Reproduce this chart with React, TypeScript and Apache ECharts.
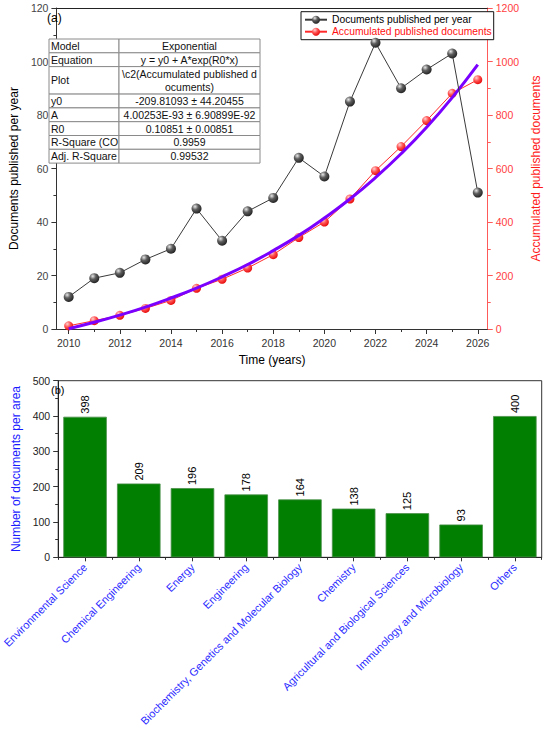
import React, { useEffect, useRef } from "react";
import * as echarts from "echarts";

const years = [2010, 2011, 2012, 2013, 2014, 2015, 2016, 2017, 2018, 2019, 2020, 2021, 2022, 2023, 2024, 2025, 2026];
const docsPerYear = [12, 19, 21, 26, 30, 45, 33, 44, 49, 64, 57, 85, 107, 90, 97, 103, 51];
const accumulatedDocs = [12, 31, 51, 77, 107, 152, 186, 228, 278, 342, 400, 486, 592, 682, 779, 881, 932];
const fitCurve = [1, 25, 52, 82, 116, 153, 195, 241, 293, 350, 415, 486, 566, 655, 754, 865, 988];
const yearTickLabels = [2010, 2012, 2014, 2016, 2018, 2020, 2022, 2024, 2026];
const oddYearTicks = [2011, 2013, 2015, 2017, 2019, 2021, 2023, 2025];

const areas = [
  "Environmental Science",
  "Chemical Engineering",
  "Energy",
  "Engineering",
  "Biochemistry, Genetics and Molecular Biology",
  "Chemistry",
  "Agricultural and Biological Sciences",
  "Immunology and Microbiology",
  "Others",
];
const areaCounts = [398, 209, 196, 178, 164, 138, 125, 93, 400];

const tableKeys = ["Model", "Equation", "Plot", "y0", "A", "R0", "R-Square (CO", "Adj. R-Square"];
const tableValues = [
  "Exponential",
  "y = y0 + A*exp(R0*x)",
  "\\c2(Accumulated published d\nocuments)",
  "-209.81093 ± 44.20455",
  "4.00253E-93 ± 6.90899E-92",
  "0.10851 ± 0.00851",
  "0.9959",
  "0.99532",
];

const FONT = '"Liberation Sans", Arial, Helvetica, sans-serif';

function buildTable() {
  const els: any[] = [];
  const x0 = 49;
  const xMid = 119;
  const x1 = 260;
  let y = 39;
  tableKeys.forEach((k, i) => {
    const h = i === 2 ? 27.5 : 13.8;
    els.push({
      type: "rect",
      shape: { x: x0, y, width: xMid - x0, height: h },
      style: { fill: "#fff", stroke: "#8a8a8a", lineWidth: 1 },
      z: 10,
    });
    els.push({
      type: "rect",
      shape: { x: xMid, y, width: x1 - xMid, height: h },
      style: { fill: "#fff", stroke: "#8a8a8a", lineWidth: 1 },
      z: 10,
    });
    els.push({
      type: "text",
      x: x0 + 2,
      y: y + h / 2,
      style: {
        text: k,
        fill: "#111",
        fontSize: 10.5,
        fontFamily: FONT,
        align: "left",
        verticalAlign: "middle",
      },
      z: 11,
    });
    els.push({
      type: "text",
      x: (xMid + x1) / 2,
      y: y + h / 2,
      style: {
        text: tableValues[i],
        fill: "#111",
        fontSize: 10.5,
        fontFamily: FONT,
        align: "center",
        verticalAlign: "middle",
        lineHeight: 13,
      },
      z: 11,
    });
    y += h;
  });
  return els;
}

export default function App() {
  const ref = useRef<HTMLDivElement>(null);

  useEffect(() => {
    document.body.style.margin = "0";
    if (!ref.current) return;
    const chart = echarts.init(ref.current, undefined, { renderer: "svg" });

    const grayBall = {
      type: "radial",
      x: 0.35,
      y: 0.3,
      r: 0.7,
      colorStops: [
        { offset: 0, color: "#e8e8e8" },
        { offset: 0.45, color: "#5e5e5e" },
        { offset: 1, color: "#262626" },
      ],
    };
    const redBall = {
      type: "radial",
      x: 0.35,
      y: 0.3,
      r: 0.7,
      colorStops: [
        { offset: 0, color: "#ffd0d0" },
        { offset: 0.5, color: "#ff5050" },
        { offset: 1, color: "#e81010" },
      ],
    };

    const numFmt = (v: number) => String(v);

    const option: any = {
      animation: false,
      textStyle: { fontFamily: FONT },
      grid: [
        { left: 42.7, right: 55, top: 8, height: 321 },
        { left: 49, right: 8.3, top: 380.7, height: 177, show: true, borderColor: "#333", borderWidth: 1 },
      ],
      legend: {
        show: true,
        orient: "vertical",
        left: 301,
        top: 11.7,
        padding: [3, 2, 3, 3],
        itemWidth: 22,
        itemHeight: 10,
        itemGap: 2,
        backgroundColor: "#fff",
        borderColor: "#111",
        borderWidth: 1,
        borderRadius: 0,
        textStyle: { fontSize: 10.3, fontFamily: FONT },
        data: [
          { name: "Documents published per year", textStyle: { color: "#000" } },
          { name: "Accumulated published documents", textStyle: { color: "#ff1010" } },
        ],
      },
      xAxis: [
        {
          type: "value",
          gridIndex: 0,
          position: "bottom",
          min: 2009.52,
          max: 2026.39,
          name: "Time (years)",
          nameLocation: "middle",
          nameGap: 25,
          nameTextStyle: { color: "#000", fontSize: 12 },
          axisLine: { show: true, lineStyle: { color: "#333", width: 1 } },
          axisTick: { show: true, customValues: yearTickLabels, length: 5, lineStyle: { color: "#333" } },
          axisLabel: { show: true, customValues: yearTickLabels, formatter: numFmt, color: "#333", fontSize: 10.5, margin: 8 },
          splitLine: { show: false },
        },
        {
          type: "value",
          gridIndex: 0,
          position: "bottom",
          min: 2009.52,
          max: 2026.39,
          axisLine: { show: false },
          axisTick: { show: true, customValues: oddYearTicks, length: 3, lineStyle: { color: "#333" } },
          axisLabel: { show: false },
          splitLine: { show: false },
        },
        {
          type: "value",
          gridIndex: 0,
          position: "top",
          min: 2009.52,
          max: 2026.39,
          axisLine: { show: true, lineStyle: { color: "#222", width: 1 } },
          axisTick: { show: false },
          axisLabel: { show: false },
          splitLine: { show: false },
        },
        {
          type: "category",
          gridIndex: 1,
          data: areas,
          axisLine: { show: true, lineStyle: { color: "#222", width: 1 } },
          axisTick: { show: true, alignWithLabel: true, length: 4, lineStyle: { color: "#333" } },
          axisLabel: { show: true, interval: 0, rotate: 45, color: "#2a2aff", fontSize: 11, margin: 8 },
          splitLine: { show: false },
        },
        {
          type: "category",
          gridIndex: 1,
          data: areas,
          position: "bottom",
          axisLine: { show: false },
          axisTick: { show: true, length: 2.5, interval: 0, lineStyle: { color: "#333" } },
          axisLabel: { show: false },
          splitLine: { show: false },
        },
      ],
      yAxis: [
        {
          type: "value",
          gridIndex: 0,
          position: "left",
          min: 0,
          max: 120,
          interval: 20,
          name: "Documents published per year",
          nameLocation: "middle",
          nameGap: 28,
          nameTextStyle: { color: "#000", fontSize: 12 },
          axisLine: { show: true, lineStyle: { color: "#333", width: 1 } },
          axisTick: { show: true, length: 5, lineStyle: { color: "#333" } },
          minorTick: { show: true, splitNumber: 2, length: 3, lineStyle: { color: "#333" } },
          axisLabel: { color: "#444", fontSize: 10.5, margin: 8, formatter: numFmt },
          splitLine: { show: false },
          minorSplitLine: { show: false },
        },
        {
          type: "value",
          gridIndex: 0,
          position: "right",
          min: 0,
          max: 1200,
          interval: 200,
          name: "Accumulated published documents",
          nameLocation: "middle",
          nameGap: 36,
          nameRotate: 90,
          nameTextStyle: { color: "#ff1a1a", fontSize: 12 },
          axisLine: { show: true, lineStyle: { color: "#ff5a5a", width: 1 } },
          axisTick: { show: true, length: 5, lineStyle: { color: "#ff5a5a" } },
          minorTick: { show: true, splitNumber: 2, length: 3, lineStyle: { color: "#ff5a5a" } },
          axisLabel: { color: "#ff4040", fontSize: 10.5, margin: 8, formatter: numFmt },
          splitLine: { show: false },
          minorSplitLine: { show: false },
        },
        {
          type: "value",
          gridIndex: 1,
          min: 0,
          max: 500,
          interval: 100,
          name: "Number of documents per area",
          nameLocation: "middle",
          nameGap: 28,
          nameTextStyle: { color: "#1a1aff", fontSize: 12 },
          axisLine: { show: true, lineStyle: { color: "#222", width: 1 } },
          axisTick: { show: true, length: 5, lineStyle: { color: "#333" } },
          minorTick: { show: true, splitNumber: 2, length: 3, lineStyle: { color: "#333" } },
          axisLabel: { color: "#222", fontSize: 10.5, margin: 8, formatter: numFmt },
          splitLine: { show: false },
          minorSplitLine: { show: false },
        },
      ],
      series: [
        {
          type: "line",
          name: "Accumulated published documents",
          xAxisIndex: 0,
          yAxisIndex: 1,
          data: years.map((y, i) => [y, accumulatedDocs[i]]),
          symbol: "circle",
          symbolSize: 9,
          lineStyle: { color: "#ff2a2a", width: 1 },
          itemStyle: { color: redBall, borderWidth: 0 },
          z: 2,
        },
        {
          type: "line",
          name: "Exponential fit",
          xAxisIndex: 0,
          yAxisIndex: 1,
          data: years.map((y, i) => [y, fitCurve[i]]),
          smooth: true,
          symbol: "none",
          showSymbol: false,
          lineStyle: { color: "#7a00ff", width: 3 },
          itemStyle: { color: "#7a00ff" },
          z: 3,
        },
        {
          type: "line",
          name: "Documents published per year",
          xAxisIndex: 0,
          yAxisIndex: 0,
          data: years.map((y, i) => [y, docsPerYear[i]]),
          symbol: "circle",
          symbolSize: 10,
          lineStyle: { color: "#3a3a3a", width: 1 },
          itemStyle: { color: grayBall, borderWidth: 0 },
          z: 4,
        },
        {
          type: "bar",
          name: "Documents per area",
          xAxisIndex: 3,
          yAxisIndex: 2,
          data: areaCounts,
          barCategoryGap: "19%",
          itemStyle: { color: "#007f00", borderColor: "#4a8f4a", borderWidth: 0.8 },
          label: {
            show: true,
            position: "top",
            rotate: 90,
            align: "left",
            verticalAlign: "middle",
            distance: 3,
            fontSize: 11,
            color: "#000",
            fontFamily: FONT,
          },
        },
      ],
      graphic: [
        {
          type: "text",
          x: 47,
          y: 18,
          style: { text: "(a)", fill: "#000", fontSize: 12, fontFamily: FONT, align: "left", verticalAlign: "middle" },
          z: 10,
        },
        {
          type: "text",
          x: 51,
          y: 390,
          style: { text: "(b)", fill: "#000", fontSize: 11, fontFamily: FONT, align: "left", verticalAlign: "middle" },
          z: 10,
        },
        ...buildTable(),
      ],
    };

    chart.setOption(option);
    return () => chart.dispose();
  }, []);

  return <div ref={ref} style={{ width: 550, height: 729 }} />;
}
